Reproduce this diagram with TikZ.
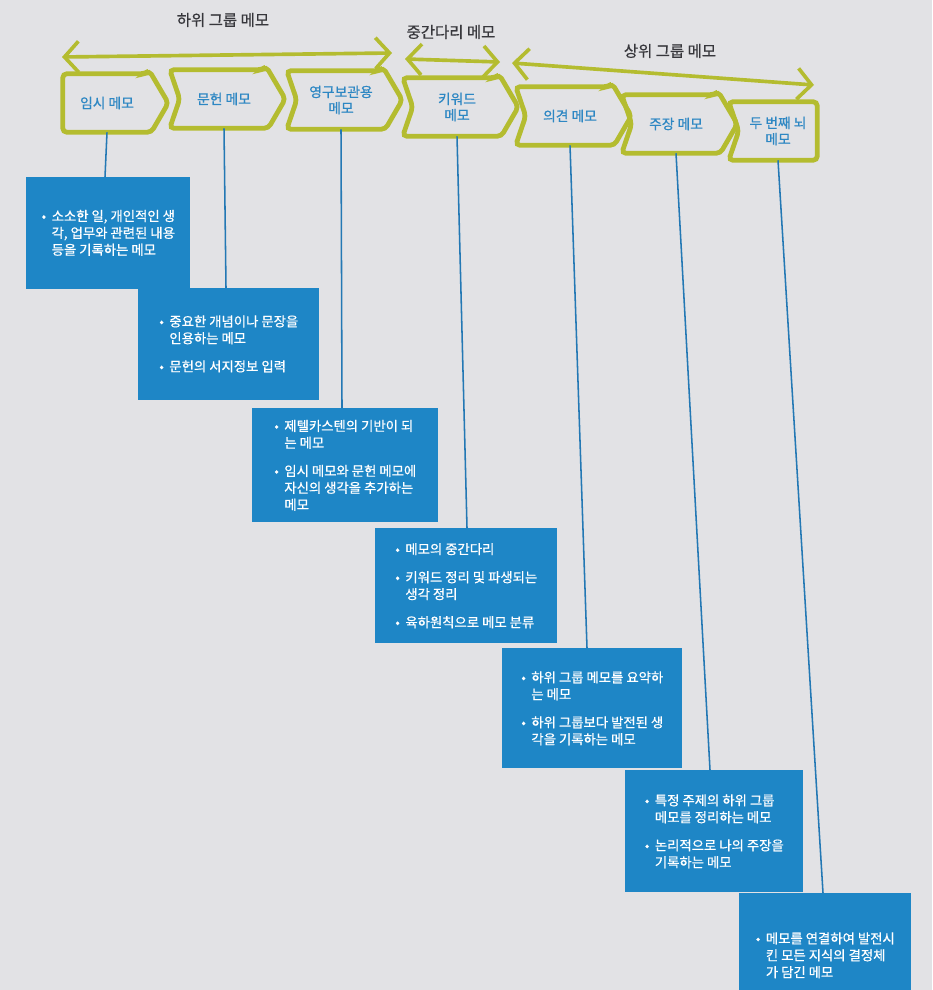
\documentclass[tikz,border=0pt]{standalone}
\usepackage{fontspec}
\setmainfont{Noto Sans CJK KR}
\newfontfamily\medfont{Noto Sans CJK KR}[FakeBold=0.7]
\usepackage{tikz}
\usetikzlibrary{arrows.meta, calc, positioning}
\usepackage{xcolor}
\definecolor{tabGreen}{RGB}{180,188,48}
\definecolor{noteBlue}{RGB}{30,134,198}
\definecolor{lineBlue}{RGB}{35,120,180}
\definecolor{memoText}{RGB}{45,135,195}
\definecolor{paperGray}{RGB}{226,226,229}
\definecolor{headGray}{RGB}{55,55,60}

\newcommand{\bul}{\makebox[0.75em][l]{•}}
\newcommand{\ind}{\hspace*{0.75em}}
% tab outline: node, notch depth, tip length
\newcommand{\memotab}[3]{%
  \draw[tabline] ($(#1.north west)+(-#2,0)$) -- ($(#1.north east)+(-6,0)$)
    -- ($(#1.north east)+(-2,-3)$) -- ($(#1.east)+(#3,0)$)
    -- (#1.south east) -- ($(#1.south west)+(-#2,0)$)
    -- (#1.west) -- cycle;}

\begin{document}
\begin{tikzpicture}[
  x=0.025cm, y=-0.025cm,
  memo/.style={minimum width=2.2cm, minimum height=1.45cm, inner sep=0pt,
               align=center, text=memoText, font=\medfont\fontsize{9.8}{11.5}\selectfont},
  tabline/.style={draw=tabGreen, line width=3.4pt, rounded corners=3pt},
  span/.style={draw=tabGreen, line width=2.6pt,
               {Straight Barb[length=10pt,width=22pt]}-{Straight Barb[length=10pt,width=22pt]}},
  head/.style={text=headGray, font=\medfont\fontsize{11}{13}\selectfont},
  note/.style={fill=noteBlue, text=white, anchor=north west, align=left,
               inner xsep=0.3cm, font=\medfont\fontsize{9.5}{12}\selectfont},
  link/.style={draw=lineBlue, line width=1.1pt}
]
  \useasboundingbox (0,0) rectangle (932,990);
  \clip (0,0) rectangle (932,990);
  \fill[paperGray] (0,0) rectangle (932,990);

  % group spans
  \coordinate (aL1) at (62,57);   \coordinate (aR1) at (392,53);
  \coordinate (aL2) at (405,59);  \coordinate (aR2) at (500,62);
  \coordinate (aL3) at (512,63);  \coordinate (aR3) at (814,85);
  \foreach \i in {1,2,3}
    \draw[span] (aL\i) -- (aR\i);
  \node[head] (g1) at (223,20) {하위 그룹 메모};
  \node[head] (g2) at (451,32) {중간다리 메모};
  \node[head] (g3) at (670,51) {상위 그룹 메모};

  % memo tabs
  \node[memo] (m1) at (107,103) {임시 메모};
  \node[memo] (m2) at (224,99)  {문헌 메모};
  \node[memo] (m3) at (341,100) {영구보관용\\메모};
  \node[memo] (m4) at (457,107) {키워드\\메모};
  \node[memo] (m5) at (570,116) {의견 메모};
  \node[memo] (m6) at (676,124) {주장 메모};
  \node[memo, minimum width=1.95cm] (m7) at (778,131) {두 번째 뇌\\메모};
  \foreach \n/\k in {m1/0, m2/10, m3/10, m4/10, m5/10, m6/10}
    \memotab{\n}{\k}{17};
  \draw[tabline] ($(m7.north west)+(-10,0)$) -- (m7.north east)
    -- (m7.south east) -- ($(m7.south west)+(-10,0)$) -- (m7.west) -- cycle;

  % descriptions
  \node[note, minimum width=4.1cm, minimum height=2.78cm] (d1) at (26,177)
    {\bul 소소한 일, 개인적인 생\\ \ind 각, 업무와 관련된 내용\\ \ind 등을 기록하는 메모};
  \node[note, minimum width=4.525cm, minimum height=2.78cm] (d2) at (138,288)
    {\bul 중요한 개념이나 문장을\\ \ind 인용하는 메모\\[8pt] \bul 문헌의 서지정보 입력};
  \node[note, minimum width=4.65cm, minimum height=2.85cm] (d3) at (252,408)
    {\bul 제텔카스텐의 기반이 되\\ \ind 는 메모\\[8pt] \bul 임시 메모와 문헌 메모에\\
     \ind 자신의 생각을 추가하는\\ \ind 메모};
  \node[note, minimum width=4.55cm, minimum height=2.87cm] (d4) at (375,528)
    {\bul 메모의 중간다리\\[8pt] \bul 키워드 정리 및 파생되는\\ \ind 생각 정리\\[8pt]
     \bul 육하원칙으로 메모 분류};
  \node[note, minimum width=4.5cm, minimum height=3cm] (d5) at (502,648)
    {\bul 하위 그룹 메모를 요약하\\ \ind 는 메모\\[8pt] \bul 하위 그룹보다 발전된 생\\
     \ind 각을 기록하는 메모};
  \node[note, minimum width=4.45cm, minimum height=3.05cm] (d6) at (625,770)
    {\bul 특정 주제의 하위 그룹\\ \ind 메모를 정리하는 메모\\[8pt] \bul 논리적으로 나의 주장을\\
     \ind 기록하는 메모};
  \node[note, minimum width=4.3cm, minimum height=3.1cm] (d7) at (739,893)
    {\bul 메모를 연결하여 발전시\\ \ind 킨 모든 지식의 결정체\\ \ind 가 담긴 메모};

  \foreach \i/\dx in {1/79, 2/88, 3/90, 4/92, 5/85, 6/85, 7/84}
    \draw[link] (m\i.south) -- ($(d\i.north west)+(\dx,0)$);
\end{tikzpicture}
\end{document}
